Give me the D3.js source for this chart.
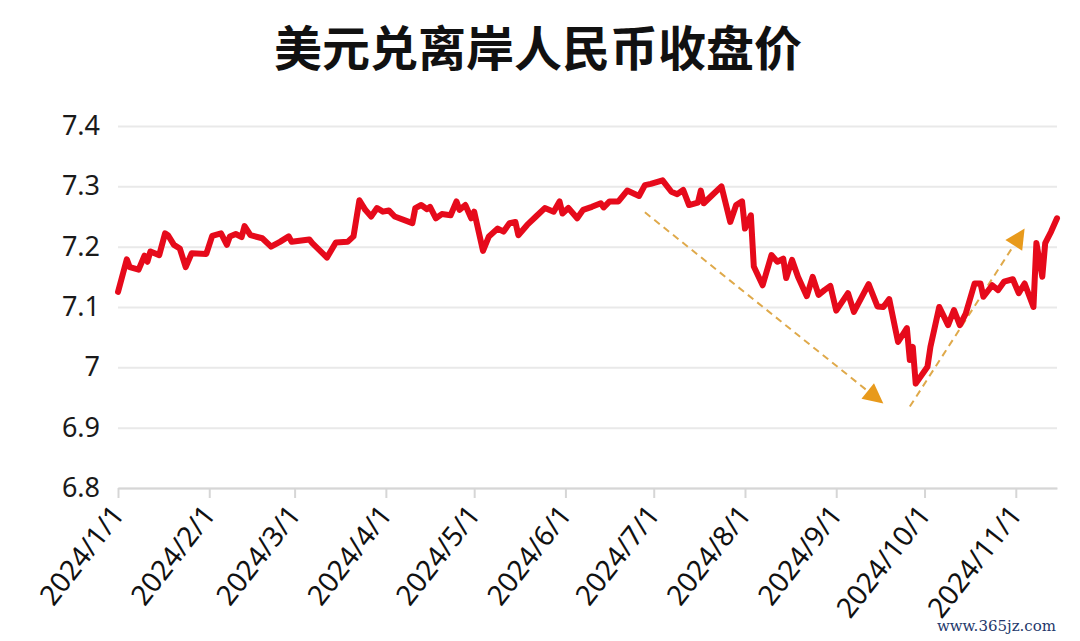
<!DOCTYPE html>
<html>
<head>
<meta charset="utf-8">
<script src="https://cdn.jsdelivr.net/npm/d3@7"></script>
<style>
  html, body { margin: 0; padding: 0; background: #ffffff; }
  svg { display: block; }
</style>
</head>
<body>
<svg id="chart" width="1080" height="641"></svg>
<script>
// ---------- data ----------
const title = "美元兑离岸人民币收盘价";

const dates = [
  "2024-01-01","2024-01-04","2024-01-05","2024-01-08","2024-01-10","2024-01-11","2024-01-12","2024-01-15",
  "2024-01-17","2024-01-18","2024-01-20","2024-01-22","2024-01-24","2024-01-26","2024-01-31","2024-02-02",
  "2024-02-05","2024-02-07","2024-02-08","2024-02-10","2024-02-12","2024-02-13","2024-02-15","2024-02-19",
  "2024-02-22","2024-02-25","2024-02-28","2024-02-29","2024-03-06","2024-03-07","2024-03-12","2024-03-15",
  "2024-03-19","2024-03-21","2024-03-23","2024-03-25","2024-03-27","2024-03-29","2024-03-31","2024-04-02",
  "2024-04-04","2024-04-10","2024-04-11","2024-04-13","2024-04-15","2024-04-16","2024-04-18","2024-04-20",
  "2024-04-23","2024-04-25","2024-04-26","2024-04-28","2024-04-30","2024-05-01","2024-05-04","2024-05-06",
  "2024-05-09","2024-05-11","2024-05-13","2024-05-15","2024-05-16","2024-05-19","2024-05-22","2024-05-25",
  "2024-05-28","2024-05-30","2024-05-31","2024-06-02","2024-06-05","2024-06-07","2024-06-10","2024-06-13",
  "2024-06-14","2024-06-16","2024-06-19","2024-06-22","2024-06-26","2024-06-28","2024-06-30","2024-07-04",
  "2024-07-07","2024-07-09","2024-07-11","2024-07-13","2024-07-16","2024-07-17","2024-07-18","2024-07-21",
  "2024-07-24","2024-07-27","2024-07-29","2024-07-31","2024-08-01","2024-08-03","2024-08-04","2024-08-07",
  "2024-08-10","2024-08-12","2024-08-14","2024-08-15","2024-08-17","2024-08-19","2024-08-22","2024-08-24",
  "2024-08-26","2024-08-28","2024-08-30","2024-09-01","2024-09-05","2024-09-07","2024-09-12","2024-09-15",
  "2024-09-17","2024-09-19","2024-09-22","2024-09-25","2024-09-26","2024-09-27","2024-09-28","2024-10-02",
  "2024-10-03","2024-10-06","2024-10-09","2024-10-11","2024-10-13","2024-10-15","2024-10-18","2024-10-20",
  "2024-10-21","2024-10-24","2024-10-26","2024-10-28","2024-10-31","2024-11-02","2024-11-04","2024-11-07",
  "2024-11-08","2024-11-10","2024-11-11","2024-11-13","2024-11-15"
];

const closes = [
  7.125,7.179,7.166,7.162,7.185,7.175,7.192,7.186,
  7.222,7.219,7.203,7.197,7.166,7.189,7.188,7.218,
  7.222,7.203,7.217,7.221,7.216,7.234,7.219,7.214,
  7.200,7.208,7.217,7.208,7.212,7.206,7.182,7.207,
  7.208,7.217,7.277,7.261,7.250,7.264,7.258,7.260,
  7.250,7.239,7.264,7.269,7.262,7.266,7.247,7.254,
  7.252,7.275,7.261,7.269,7.247,7.258,7.193,7.217,
  7.230,7.225,7.239,7.241,7.219,7.236,7.250,7.264,
  7.258,7.275,7.255,7.264,7.247,7.261,7.266,7.272,
  7.265,7.275,7.275,7.293,7.284,7.302,7.304,7.310,
  7.291,7.287,7.294,7.269,7.273,7.293,7.272,7.286,
  7.300,7.241,7.269,7.275,7.230,7.252,7.167,7.136,
  7.186,7.175,7.180,7.148,7.178,7.150,7.118,7.150,
  7.120,7.128,7.135,7.094,7.123,7.092,7.138,7.101,
  7.100,7.113,7.042,7.065,7.012,7.034,6.973,7.001,
  7.034,7.100,7.070,7.095,7.070,7.089,7.139,7.139,
  7.117,7.136,7.128,7.142,7.146,7.123,7.139,7.100,
  7.206,7.150,7.206,7.225,7.247
];

const yTicks = [6.8, 6.9, 7.0, 7.1, 7.2, 7.3, 7.4];
const yTickLabels = ["6.8", "6.9", "7", "7.1", "7.2", "7.3", "7.4"];
const xTickLabels = ["2024/1/1","2024/2/1","2024/3/1","2024/4/1","2024/5/1","2024/6/1",
                     "2024/7/1","2024/8/1","2024/9/1","2024/10/1","2024/11/1"];
const xDomain = ["2024-01-01", "2024-11-15"];

// trend annotations: [start date, start value, end date, end value]
const trendArrows = [
  ["2024-06-28", 7.257, "2024-09-17", 6.940],
  ["2024-09-26", 6.935, "2024-11-04", 7.230]
];

const watermark = "www.365jz.com";

// ---------- chart ----------
const parseDay = d3.timeParse("%Y-%m-%d");
const parseTick = d3.timeParse("%Y/%m/%d");
const series = dates.map((d, i) => ({ date: parseDay(d), value: closes[i] }));

const margin = { left: 118, right: 23, top: 126, bottom: 153 };
const W = 1080, H = 641;
const svg = d3.select("#chart");

const x = d3.scaleTime()
  .domain(xDomain.map(parseDay))
  .range([margin.left, W - margin.right]);
const y = d3.scaleLinear()
  .domain([6.8, 7.4])
  .range([H - margin.bottom, margin.top]);

const font = "'Noto Sans', 'Liberation Sans', sans-serif";

// title
svg.append("text")
  .attr("x", 538).attr("y", 66)
  .attr("text-anchor", "middle")
  .style("font-family", "'Noto Sans CJK SC', sans-serif")
  .style("font-weight", 700)
  .style("font-size", "48px")
  .style("fill", "#111")
  .text(title);

// y axis with gridlines
const yAxis = svg.append("g")
  .attr("transform", `translate(${margin.left},0)`)
  .call(d3.axisLeft(y)
    .tickValues(yTicks)
    .tickSize(-(W - margin.left - margin.right))
    .tickPadding(18)
    .tickFormat((d, i) => yTickLabels[i]));
yAxis.select(".domain").remove();
yAxis.selectAll(".tick line").attr("stroke", "#e9e9e9").attr("stroke-width", 2);
yAxis.selectAll(".tick text")
  .style("font-family", font).style("font-size", "27px").style("fill", "#1a1a1a");

// x axis
const xTickDates = xTickLabels.map(parseTick);
const xAxis = svg.append("g")
  .attr("transform", `translate(0,${H - margin.bottom})`)
  .call(d3.axisBottom(x)
    .tickValues(xTickDates)
    .tickSize(10)
    .tickSizeOuter(0)
    .tickFormat((d, i) => xTickLabels[i]));
xAxis.select(".domain").attr("stroke", "#d6d6d6").attr("stroke-width", 2);
xAxis.selectAll(".tick line").attr("stroke", "#d6d6d6").attr("stroke-width", 2);
xAxis.selectAll(".tick text")
  .attr("text-anchor", "end")
  .attr("x", 0).attr("y", 0).attr("dy", 0)
  .attr("transform", "translate(7,27) rotate(-52)")
  .style("font-family", font).style("font-size", "28px").style("fill", "#111");

// trend arrows
const arrowColor = "#e89a1c";
trendArrows.forEach(a => {
  const x1 = x(parseDay(a[0])), y1 = y(a[1]);
  const x2 = x(parseDay(a[2])), y2 = y(a[3]);
  const ang = Math.atan2(y2 - y1, x2 - x1);
  const head = 20;
  const bx = x2 - head * Math.cos(ang), by = y2 - head * Math.sin(ang);
  svg.append("line")
    .attr("x1", x1).attr("y1", y1).attr("x2", bx).attr("y2", by)
    .attr("stroke", "#dfa94a").attr("stroke-width", 2)
    .attr("stroke-dasharray", "7,5");
  const px = -Math.sin(ang), py = Math.cos(ang);
  const hw = 10;
  svg.append("path")
    .attr("d", `M${x2},${y2} L${bx + px * hw},${by + py * hw} L${bx - px * hw},${by - py * hw} Z`)
    .attr("fill", arrowColor);
});

// line
const line = d3.line()
  .x(d => x(d.date))
  .y(d => y(d.value));
svg.append("path")
  .datum(series)
  .attr("fill", "none")
  .attr("stroke", "#e60a1b")
  .attr("stroke-width", 6)
  .attr("stroke-linejoin", "round")
  .attr("stroke-linecap", "round")
  .attr("d", line);

// watermark
svg.append("text")
  .attr("x", 1056).attr("y", 631)
  .attr("text-anchor", "end")
  .style("font-family", "'DejaVu Serif', serif")
  .style("font-size", "15px")
  .style("fill", "#24386b")
  .text(watermark);
</script>
</body>
</html>
